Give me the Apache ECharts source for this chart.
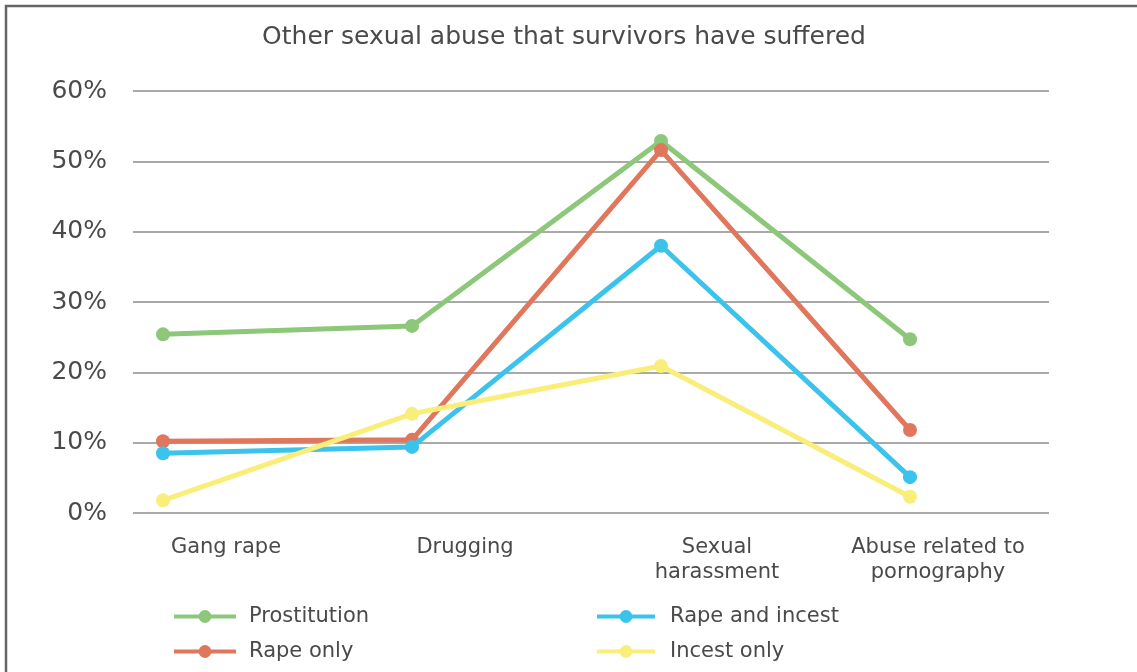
<!DOCTYPE html>
<html>
<head>
<meta charset="utf-8">
<title>Other sexual abuse that survivors have suffered</title>
<script src="https://cdn.jsdelivr.net/npm/echarts@6/dist/echarts.min.js"></script>
<style>
  html, body { margin: 0; padding: 0; background: #ffffff; }
  #chart { width: 1137px; height: 672px; }
</style>
</head>
<body>
<div id="chart"></div>
<script>
// Categories along the x axis
const categories = ['Gang rape', 'Drugging', 'Sexual\nharassment', 'Abuse related to\npornography'];

// Share of survivors (%) in each group
const prostitution = [25.4, 26.6, 52.9, 24.7];
const rapeOnly = [10.2, 10.4, 51.6, 11.8];
const rapeAndIncest = [8.5, 9.4, 38.0, 5.1];
const incestOnly = [1.8, 14.1, 20.9, 2.3];

// Y axis ticks (%)
const yTicks = [0, 10, 20, 30, 40, 50, 60];

const seriesNames = ['Prostitution', 'Rape only', 'Rape and incest', 'Incest only'];
const seriesValues = [prostitution, rapeOnly, rapeAndIncest, incestOnly];
const seriesColors = ['#8cc77a', '#e0775d', '#3cc3ec', '#f9ee7a'];

// Horizontal shift of each category label (left padding, px)
const labelShift = [126, 106, 112, 56];

// Legend slots: two columns of two rows
const legendSlots = [
  { left: 172, top: 606 },
  { left: 172, top: 641 },
  { left: 595, top: 606 },
  { left: 595, top: 641 }
];

const FONT = '"DejaVu Sans", sans-serif';
const TEXT = '#4a4a4a';

const chart = echarts.init(document.getElementById('chart'), null, { renderer: 'canvas' });

const rich = {};
labelShift.forEach((p, i) => {
  rich['c' + i] = { fontFamily: FONT, fontSize: 21, color: TEXT, lineHeight: 25, padding: [0, 0, 0, p] };
});

const option = {
  backgroundColor: '#ffffff',
  animation: false,
  title: {
    text: 'Other sexual abuse that survivors have suffered',
    left: 559,
    textAlign: 'center',
    top: 20,
    textStyle: { fontFamily: FONT, fontSize: 25, fontWeight: 'normal', color: TEXT }
  },
  graphic: [{
    type: 'rect',
    shape: { x: 6, y: 6, width: 1200, height: 720 },
    style: { fill: 'none', stroke: '#666666', lineWidth: 2.5 },
    silent: true
  }],
  legend: seriesNames.map((name, i) => ({
    data: [name],
    left: legendSlots[i].left,
    top: legendSlots[i].top,
    padding: 0,
    itemWidth: i < 2 ? 62 : 58,
    itemHeight: 16,
    textStyle: { fontFamily: FONT, fontSize: 21, color: TEXT, padding: [0, 0, 0, i < 2 ? 8 : 10] },
    lineStyle: { width: 4 }
  })),
  grid: [
    { left: 133, right: 88, top: 91, bottom: 159 },
    { left: 163, right: 227, top: 91, bottom: 159 }
  ],
  xAxis: [
    { gridIndex: 0, type: 'value', show: false, min: 0, max: 1 },
    {
      gridIndex: 1, type: 'category', data: categories, boundaryGap: false,
      axisLine: { show: false }, axisTick: { show: false }, splitLine: { show: false },
      axisLabel: {
        margin: 22, interval: 0, verticalAlign: 'top',
        formatter: (v, i) => v.split('\n').map(l => '{c' + i + '|' + l + '}').join('\n'),
        rich: rich
      }
    }
  ],
  yAxis: [
    {
      gridIndex: 0, type: 'value', min: yTicks[0], max: yTicks[yTicks.length - 1], interval: 10,
      axisLine: { show: false }, axisTick: { show: false },
      axisLabel: { formatter: '{value}%', margin: 26, fontFamily: FONT, fontSize: 25, color: TEXT },
      splitLine: { lineStyle: { color: '#8c8c8c', width: 1.5 } }
    },
    {
      gridIndex: 1, type: 'value', min: yTicks[0], max: yTicks[yTicks.length - 1], interval: 10, show: false,
      splitLine: { show: false }
    }
  ],
  series: seriesNames.map((name, i) => ({
    name: name,
    type: 'line',
    xAxisIndex: 1,
    yAxisIndex: 1,
    data: seriesValues[i],
    symbol: 'circle',
    symbolSize: 14,
    lineStyle: { color: seriesColors[i], width: 5 },
    itemStyle: { color: seriesColors[i] },
    z: 2 + i
  }))
};

chart.setOption(option);
</script>
</body>
</html>
